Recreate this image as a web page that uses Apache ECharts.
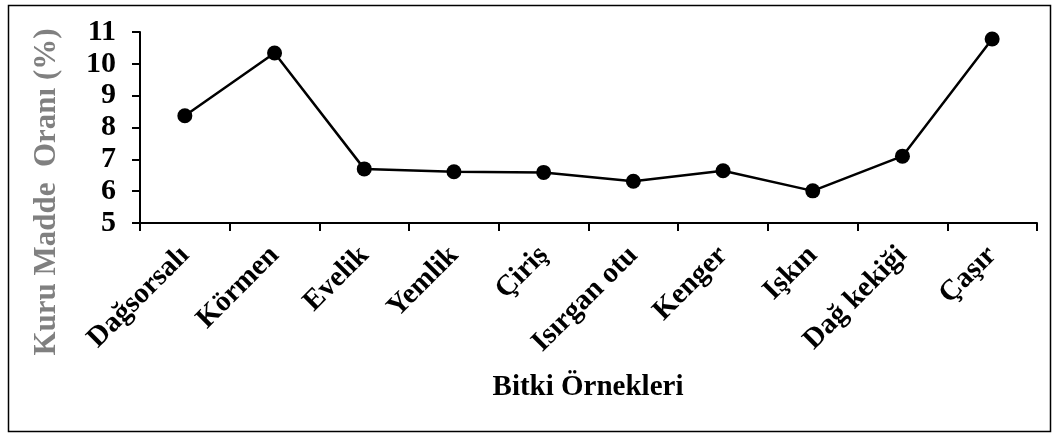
<!DOCTYPE html>
<html>
<head>
<meta charset="utf-8">
<script src="https://cdn.jsdelivr.net/npm/echarts@6/dist/echarts.min.js"></script>
<style>
html,body{margin:0;padding:0;background:#fff;}
#c{width:1059px;height:437px;}
</style>
</head>
<body>
<div id="c"></div>
<script>
const categories = ['Dağsorsalı','Körmen','Evelik','Yemlik','Çiriş','Isırgan otu','Kenger','Işkın','Dağ kekiği','Çaşır'];
const values = [8.37, 10.34, 6.70, 6.61, 6.59, 6.31, 6.64, 6.01, 7.10, 10.78];
const yTitle = 'Kuru Madde  Oranı (%)';
const xTitle = 'Bitki Örnekleri';
const font = '"Liberation Serif","Times New Roman",serif';

const chart = echarts.init(document.getElementById('c'), null, {renderer:'canvas'});
chart.setOption({
  animation:false,
  grid:{left:140, right:22, top:32, bottom:214, containLabel:false},
  graphic:[
    {type:'rect', shape:{x:8.5,y:5.5,width:1042,height:426}, style:{fill:'none',stroke:'#000',lineWidth:1.5}, silent:true},
    {type:'text', x:47, y:192, rotation:Math.PI/2, style:{text:yTitle, fill:'#808080', font:'bold 31px '+font, textAlign:'center', textVerticalAlign:'middle'}},
    {type:'text', x:588, y:388, style:{text:xTitle, fill:'#000', font:'bold 29px '+font, textAlign:'center', textVerticalAlign:'middle'}}
  ],
  xAxis:{
    type:'category', data:categories, boundaryGap:true,
    axisLine:{lineStyle:{color:'#000', width:2}},
    axisTick:{show:true, inside:false, length:8, lineStyle:{color:'#000', width:2}, alignWithLabel:false},
    axisLabel:{rotate:45, interval:0, color:'#000', fontFamily:font, fontWeight:'bold', fontSize:29, margin:28}
  },
  yAxis:{
    type:'value', min:5, max:11, interval:1,
    splitLine:{show:false},
    axisLine:{show:true, lineStyle:{color:'#000', width:2}},
    axisTick:{show:true, length:8, lineStyle:{color:'#000', width:2}},
    axisLabel:{color:'#000', fontFamily:font, fontWeight:'bold', fontSize:30, margin:24}
  },
  series:[{
    type:'line', data:values,
    symbol:'circle', symbolSize:15,
    lineStyle:{color:'#000', width:2.5},
    itemStyle:{color:'#000'}
  }]
});
</script>
</body>
</html>
